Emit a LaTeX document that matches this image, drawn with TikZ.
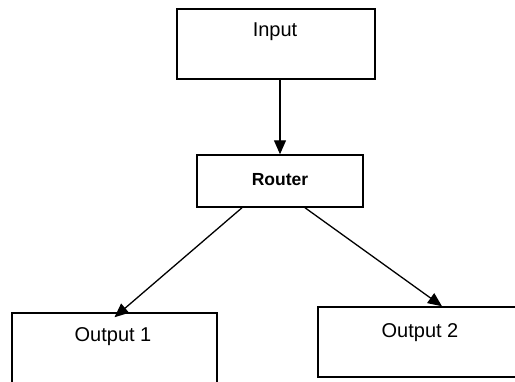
\documentclass[tikz,border=0pt]{standalone}
\usepackage{fontspec}
\setmainfont{Liberation Sans}
\usetikzlibrary{arrows.meta,positioning}
\begin{document}
\begin{tikzpicture}[x=1pt,y=-1pt,
  box/.style={draw=black,line width=1.5pt,inner sep=0pt,fill=white},
  lbl/.style={inner sep=0pt,font=\fontsize{20}{22}\selectfont},
  conn/.style={line width=1.3pt,-{Triangle[length=14pt,width=12pt]}}]
  \useasboundingbox[fill=white] (0,0) rectangle (515,381);
  % boxes (corner to corner, in pixel units)
  \node[box,minimum width=198pt,minimum height=70pt] (input) at (276,44) {};
  \node[box,minimum width=166pt,minimum height=52pt] (router) at (280,181) {};
  \node[box,minimum width=205pt,minimum height=82pt] (out1) at (114.5,354) {};
  \node[box,minimum width=204pt,minimum height=70pt] (out2) at (420,342) {};
  % labels
  \node[lbl] (inputtxt) at (275,32) {Input};
  \node[lbl,font=\bfseries\fontsize{17.5}{20}\selectfont] (routertxt) at (280,180) {Router};
  \node[lbl] (out1txt) at (113,337) {Output 1};
  \node[lbl] (out2txt) at (420,333) {Output 2};
  % connectors
  \draw[conn] (router.north |- input.south) -- (router.north);
  \draw[conn] ([xshift=-38pt]router.south) -- ([yshift=-5pt]out1.north);
  \draw[conn] ([xshift=25pt]router.south) -- ([xshift=22pt]out2.north);
\end{tikzpicture}
\end{document}
